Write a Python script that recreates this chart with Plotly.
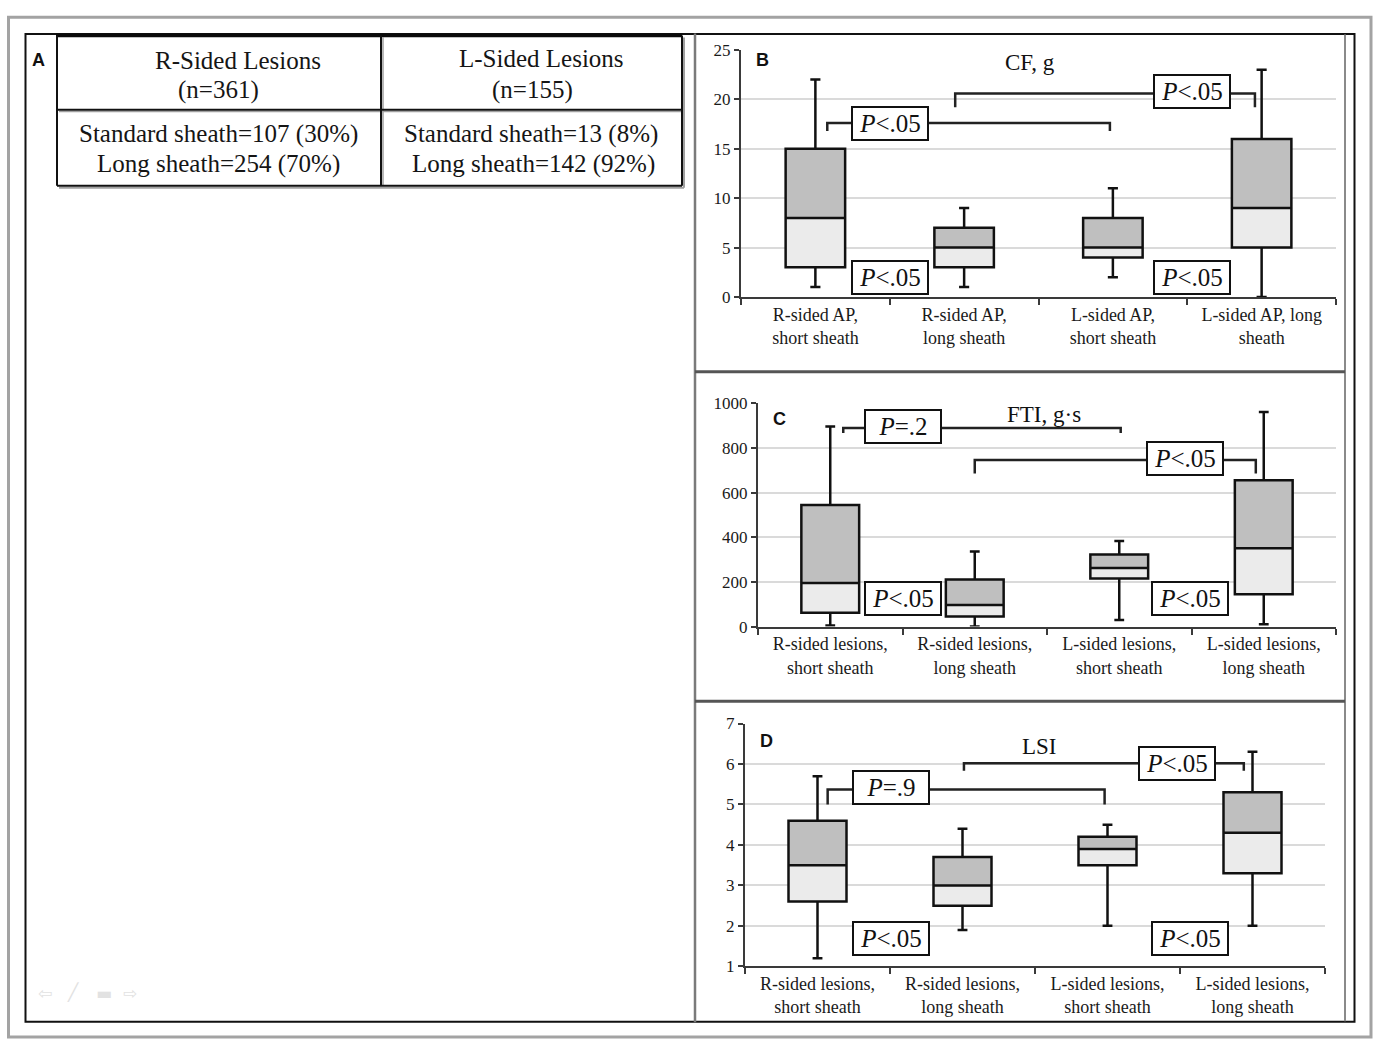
import plotly.graph_objects as go

W, H = 1375, 1049

# ---------------- Panel A (table) ----------------
table_header_r = ["R-Sided Lesions", "(n=361)"]
table_header_l = ["L-Sided Lesions", "(n=155)"]
table_body_r = ["Standard sheath=107 (30%)", "Long sheath=254 (70%)"]
table_body_l = ["Standard sheath=13 (8%)", "Long sheath=142 (92%)"]

# ---------------- Box-plot data ----------------
x_pos = [0, 1, 2, 3]
cats_B = ["R-sided AP,<br>short sheath", "R-sided AP,<br>long sheath",
          "L-sided AP,<br>short sheath", "L-sided AP, long<br>sheath"]
cats_CD = ["R-sided lesions,<br>short sheath", "R-sided lesions,<br>long sheath",
           "L-sided lesions,<br>short sheath", "L-sided lesions,<br>long sheath"]

cf_low = [1, 1, 2, 0]
cf_q1 = [3, 3, 4, 5]
cf_med = [8, 5, 5, 9]
cf_q3 = [15, 7, 8, 16]
cf_high = [22, 9, 11, 23]

fti_low = [5, 0, 30, 10]
fti_q1 = [62, 45, 215, 145]
fti_med = [195, 97, 263, 351]
fti_q3 = [545, 211, 323, 656]
fti_high = [897, 336, 383, 962]

lsi_low = [1.2, 1.9, 2.0, 2.0]
lsi_q1 = [2.6, 2.5, 3.5, 3.3]
lsi_med = [3.5, 3.0, 3.9, 4.3]
lsi_q3 = [4.6, 3.7, 4.2, 5.3]
lsi_high = [5.7, 4.4, 4.5, 6.3]

# significance brackets: (x_start, x_end, y_level, y_tip)
br_B = [(0.08, 1.98, 17.6, 16.8), (0.94, 2.955, 20.6, 19.2)]
br_C = [(0.09, 2.01, 890, 868), (1.0, 2.945, 747, 686)]
br_D = [(0.07, 1.98, 5.37, 5.0), (1.01, 2.94, 6.02, 5.83)]

# p-value labels: (x, y, text)
pl_B = [(0.50, 17.6, "<i>P</i>&lt;.05"), (2.53, 20.75, "<i>P</i>&lt;.05"),
        (0.50, 2.0, "<i>P</i>&lt;.05"), (2.53, 2.0, "<i>P</i>&lt;.05")]
pl_C = [(0.50, 895, "<i>P</i>=.2"), (2.455, 755, "<i>P</i>&lt;.05"),
        (0.50, 128, "<i>P</i>&lt;.05"), (2.49, 128, "<i>P</i>&lt;.05")]
pl_D = [(0.51, 5.42, "<i>P</i>=.9"), (2.48, 6.0, "<i>P</i>&lt;.05"),
        (0.51, 1.70, "<i>P</i>&lt;.05"), (2.57, 1.70, "<i>P</i>&lt;.05")]

titles = [("CF, g", 1.44, 23.7), ("FTI, g·s", 1.48, 949), ("LSI", 1.53, 6.44)]

SERIF = "Liberation Serif"
SANS = "Liberation Sans"
LIGHT = "#ebebeb"
DARK = "#bfbfbf"
GRID = "#dadada"


def px(x):
    return x / W


def py(y):
    return 1 - y / H


fig = go.Figure()

panels = [
    ("x", "y", cf_low, cf_q1, cf_med, cf_q3, cf_high, br_B, pl_B),
    ("x2", "y2", fti_low, fti_q1, fti_med, fti_q3, fti_high, br_C, pl_C),
    ("x3", "y3", lsi_low, lsi_q1, lsi_med, lsi_q3, lsi_high, br_D, pl_D),
]

annotations = []
for i, (xa, ya, lo, q1, med, q3, hi, brs, pls) in enumerate(panels):
    fig.add_trace(go.Bar(x=x_pos, y=[m - a for m, a in zip(med, q1)], base=q1,
                         width=0.4, marker=dict(color=LIGHT, line=dict(width=0)),
                         xaxis=xa, yaxis=ya, hoverinfo="skip"))
    fig.add_trace(go.Bar(x=x_pos, y=[b - m for m, b in zip(med, q3)], base=med,
                         width=0.4, marker=dict(color=DARK, line=dict(width=0)),
                         xaxis=xa, yaxis=ya, hoverinfo="skip"))
    fig.add_trace(go.Box(x=x_pos, q1=q1, median=med, q3=q3, lowerfence=lo,
                         upperfence=hi, width=0.4, whiskerwidth=0.17,
                         fillcolor="rgba(0,0,0,0)",
                         line=dict(color="#111111", width=2.5),
                         boxpoints=False, xaxis=xa, yaxis=ya))
    for (x0, x1, yl, yt) in brs:
        fig.add_trace(go.Scatter(x=[x0, x0, x1, x1], y=[yt, yl, yl, yt],
                                 mode="lines", line=dict(color="#222222", width=2.5),
                                 xaxis=xa, yaxis=ya, hoverinfo="skip"))
    for (xx, yy, txt) in pls:
        annotations.append(dict(x=xx, y=yy, xref=xa, yref=ya, text=txt,
                                showarrow=False, bgcolor="white",
                                bordercolor="#111111", borderwidth=2,
                                borderpad=1, width=72, height=29,
                                font=dict(family=SERIF, size=25, color="#111111")))
    t, tx, ty = titles[i]
    annotations.append(dict(x=tx, y=ty, xref=xa, yref=ya, text=t, showarrow=False,
                            font=dict(family=SERIF, size=23, color="#111111")))


def xax(domain, anchor, ticktext):
    return dict(domain=domain, anchor=anchor, range=[-0.5, 3.5], tickmode="array",
                tickvals=x_pos, ticktext=ticktext, ticks="", showline=True,
                linecolor="#3a3a3a", linewidth=2, showgrid=False, zeroline=False,
                tickfont=dict(family=SERIF, size=18, color="#1a1a1a"),
                minor=dict(tickmode="array", tickvals=[-0.5, 0.5, 1.5, 2.5, 3.5],
                           ticks="outside", ticklen=6, tickwidth=2,
                           tickcolor="#3a3a3a", showgrid=False),
                fixedrange=True)


def yax(domain, anchor, rng, tv, gv):
    return dict(domain=domain, anchor=anchor, range=rng, tickmode="array",
                tickvals=tv, ticks="outside", ticklen=5, tickwidth=1.5,
                tickcolor="#3a3a3a", showline=True, linecolor="#3a3a3a",
                linewidth=2, showgrid=False, zeroline=False,
                minor=dict(tickmode="array", tickvals=gv, ticks="", showgrid=True,
                           gridcolor=GRID, gridwidth=2),
                tickfont=dict(family=SERIF, size=17, color="#1a1a1a"),
                fixedrange=True)


fig.update_layout(
    xaxis=xax([px(741), px(1336)], "y", cats_B),
    yaxis=yax([py(293.3), py(41.7)], "x", [0, 25], [0, 5, 10, 15, 20, 25],
              [5, 10, 15, 20]),
    xaxis2=xax([px(758), px(1336)], "y2", cats_CD),
    yaxis2=yax([py(629), py(401.7)], "x2", [0, 1000], [0, 200, 400, 600, 800, 1000],
               [200, 400, 600, 800, 1000]),
    xaxis3=xax([px(745), px(1325)], "y3", cats_CD),
    yaxis3=yax([py(975), py(727.7)], "x3", [1, 7], [1, 2, 3, 4, 5, 6, 7],
               [2, 3, 4, 5, 6, 7]),
)

# panel letters
for letter, lx, ly in [("A", 38, 52), ("B", 762, 52), ("C", 779, 418), ("D", 767, 745)]:
    annotations.append(dict(x=px(lx), y=py(ly), xref="paper", yref="paper", text=letter,
                            showarrow=False, xanchor="center", yanchor="middle",
                            font=dict(family=SANS, size=18, color="#111111", weight="bold")))

# table text
for txt, cx, cy in [(table_header_r[0], 238, 52), (table_header_r[1], 219, 82),
                    (table_header_l[0], 541, 50), (table_header_l[1], 532, 82),
                    (table_body_r[0], 218, 127), (table_body_r[1], 219, 158),
                    (table_body_l[0], 531, 127), (table_body_l[1], 533, 158)]:
    annotations.append(dict(x=px(cx), y=py(cy), xref="paper", yref="paper", text=txt,
                            showarrow=False, xanchor="center", yanchor="middle",
                            font=dict(family=SERIF, size=25, color="#151515")))

# faint slideshow icons
for sym, ix in [("⇦", 36), ("╱", 65), ("▬", 94), ("⇨", 121)]:
    annotations.append(dict(x=px(ix), y=py(1014), xref="paper", yref="paper",
                            text=sym, showarrow=False,
                            font=dict(family="DejaVu Sans", size=17, color="#e2e2e2")))

shapes = []


def line(x0, y0, x1, y1, color, w):
    shapes.append(dict(type="line", xref="paper", yref="paper",
                       x0=px(x0), y0=py(y0), x1=px(x1), y1=py(y1),
                       line=dict(color=color, width=w)))


# outer frames
shapes.append(dict(type="rect", xref="paper", yref="paper", x0=px(8.5), y0=py(1047),
                   x1=px(1371), y1=py(8.5), line=dict(color="#a3a3a3", width=3)))
shapes.append(dict(type="rect", xref="paper", yref="paper", x0=px(25.5), y0=py(1031.5),
                   x1=px(1354.5), y1=py(25.5), line=dict(color="#111111", width=2)))
line(695, 25, 695, 1032, "#7a7a7a", 2.5)
line(1345, 26, 1345, 1031, "#8a8a8a", 2)
line(695, 369.5, 1345, 369.5, "#555555", 3)
line(695, 705, 1345, 705, "#555555", 3)

# table shadows
line(59, 182, 684, 182, "#a0a0a0", 2)
line(684, 29, 684, 182, "#a0a0a0", 2)
line(59, 104.5, 682, 104.5, "#a0a0a0", 1.5)
line(383, 29, 383, 180, "#a0a0a0", 1.5)
# table lines
line(56, 27, 682, 27, "#0a0a0a", 3.5)
line(57, 102.5, 682, 102.5, "#111111", 2)
line(57, 180, 682, 180, "#111111", 2)
line(57, 27, 57, 180, "#111111", 2)
line(682, 27, 682, 180, "#111111", 2)
line(381, 27, 381, 180, "#111111", 2)

fig.update_layout(
    width=W, height=H, margin=dict(l=0, r=0, t=0, b=0),
    paper_bgcolor="white", plot_bgcolor="rgba(0,0,0,0)",
    showlegend=False, barmode="overlay",
    annotations=annotations, shapes=shapes,
)

post_js = (
    "document.documentElement.style.margin='0';"
    "document.documentElement.style.padding='0';"
    "document.documentElement.style.overflow='hidden';"
    "document.body.style.margin='0';"
    "document.body.style.padding='0';"
    "document.body.style.overflow='hidden';"
    "var gd=document.getElementById('{plot_id}');"
    "gd.style.position='fixed';gd.style.left='0px';gd.style.top='0px';"
)

fig.write_html("out.html", config={"displayModeBar": False}, post_script=post_js)
